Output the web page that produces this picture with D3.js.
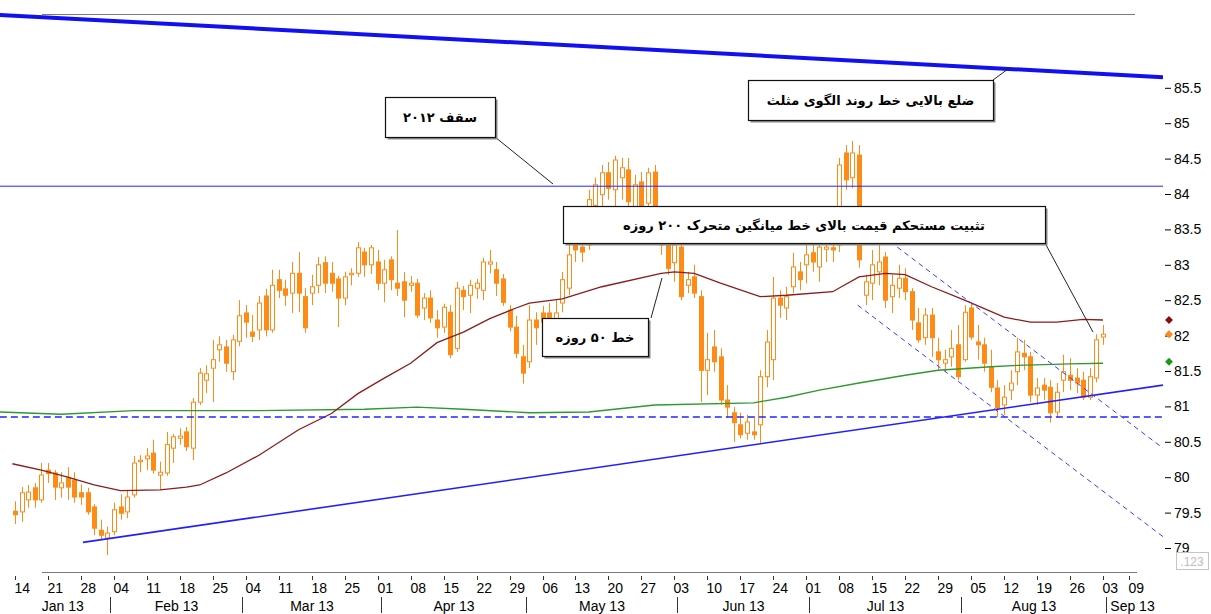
<!DOCTYPE html>
<html>
<head>
<meta charset="utf-8">
<script src="https://cdn.jsdelivr.net/npm/d3@7"></script>
<style>
  body { margin: 0; background: #fff; }
  svg { display: block; }
</style>
</head>
<body>
<svg id="chart" width="1211" height="614"></svg>
<script>
// daily candles, 14 Jan 2013 .. 03 Sep 2013
const opens = [
  79.52, 79.51, 79.68, 79.85, 79.68, 80.10, 80.06, 79.85, 79.99, 79.96,
  79.78, 79.78, 79.58, 79.25, 79.14, 79.23, 79.58, 79.51, 79.75, 80.22,
  80.26, 80.34, 80.03, 80.06, 80.41, 80.55, 80.64, 80.41, 81.06, 81.37,
  81.54, 81.80, 81.84, 81.49, 81.92, 82.32, 82.05, 82.08, 82.56, 82.08,
  82.79, 82.66, 82.60, 82.88, 82.55, 82.60, 82.71, 83.03, 82.88, 82.80,
  82.53, 82.86, 82.88, 83.18, 83.00, 83.04, 82.74, 83.07, 82.74, 82.76,
  82.71, 82.74, 82.39, 82.53, 82.22, 82.12, 82.33, 81.82, 82.64, 82.57,
  82.67, 82.64, 83.01, 82.93, 82.80, 82.36, 82.12, 81.70, 81.63, 82.22,
  82.32, 82.32, 82.19, 82.46, 82.67, 83.28, 83.25, 83.28, 83.84, 83.99,
  84.30, 84.06, 84.23, 84.34, 83.77, 84.17, 83.87, 84.31, 83.56, 83.28,
  83.03, 83.25, 82.71, 82.83, 82.55, 81.51, 81.84, 81.70, 81.09, 80.91,
  80.74, 80.62, 80.64, 80.74, 81.42, 81.66, 82.53, 82.39, 82.69, 82.90,
  83.00, 83.17, 82.97, 83.22, 83.24, 83.28, 84.58, 84.23, 84.55, 82.57,
  82.74, 82.90, 83.11, 82.55, 82.67, 82.81, 82.62, 82.18, 81.97, 82.29,
  81.77, 81.61, 81.70, 81.87, 81.66, 82.39, 81.91, 81.87, 81.56, 81.26,
  81.02, 81.23, 81.49, 81.75, 81.70, 81.16, 81.30, 81.27, 80.92, 81.37,
  81.44, 81.40, 81.37, 81.13, 81.40, 81.98
];
const highs = [
  79.66, 79.86, 79.89, 79.92, 80.20, 80.20, 80.10, 80.07, 80.14, 80.07,
  79.90, 79.85, 79.62, 79.40, 79.30, 79.64, 79.76, 79.82, 80.30, 80.31,
  80.41, 80.53, 80.22, 80.64, 80.61, 80.69, 80.71, 81.12, 81.54, 81.58,
  81.94, 81.99, 81.94, 82.01, 82.50, 82.43, 82.29, 82.56, 82.66, 82.93,
  82.93, 82.79, 83.04, 83.18, 82.67, 82.86, 83.11, 83.12, 83.04, 82.84,
  82.90, 82.95, 83.32, 83.24, 83.28, 83.21, 83.07, 83.12, 83.49, 82.90,
  82.84, 82.80, 82.60, 82.64, 82.36, 82.45, 82.43, 82.76, 82.70, 82.79,
  82.80, 83.10, 83.21, 83.04, 82.87, 82.43, 82.28, 81.87, 82.43, 82.33,
  82.42, 82.46, 82.50, 82.90, 83.39, 83.56, 83.38, 84.06, 84.23, 84.41,
  84.45, 84.54, 84.51, 84.51, 84.27, 84.31, 84.37, 84.41, 83.70, 83.38,
  83.38, 83.35, 82.90, 83.00, 82.64, 82.04, 82.08, 81.82, 81.30, 80.99,
  80.91, 80.88, 80.84, 81.51, 82.08, 82.83, 82.64, 82.69, 83.17, 83.04,
  83.29, 83.35, 83.35, 83.38, 83.49, 84.51, 84.69, 84.75, 84.69, 82.86,
  83.21, 83.28, 83.18, 82.86, 83.00, 82.95, 82.67, 82.39, 82.39, 82.39,
  81.97, 81.80, 82.08, 82.15, 82.43, 82.46, 82.15, 81.97, 81.80, 81.37,
  81.30, 81.51, 81.97, 81.94, 81.77, 81.40, 81.40, 81.37, 81.33, 81.73,
  81.68, 81.54, 81.49, 81.54, 82.02, 82.15
];
const lows = [
  79.34, 79.37, 79.57, 79.57, 79.64, 79.92, 79.68, 79.71, 79.68, 79.64,
  79.61, 79.47, 79.18, 79.11, 78.90, 79.18, 79.40, 79.42, 79.71, 80.07,
  80.10, 80.05, 79.82, 80.02, 80.20, 80.46, 80.37, 80.24, 81.02, 81.19,
  81.06, 81.63, 81.49, 81.37, 81.85, 81.97, 81.91, 81.94, 81.99, 82.04,
  82.53, 82.42, 82.32, 82.33, 82.04, 82.43, 82.60, 82.60, 82.62, 82.12,
  82.43, 82.71, 82.83, 82.83, 82.87, 82.64, 82.47, 82.64, 82.56, 82.26,
  82.62, 82.25, 82.22, 82.18, 81.97, 82.04, 81.68, 81.77, 82.36, 82.32,
  82.52, 82.50, 82.88, 82.56, 82.42, 82.06, 81.68, 81.32, 81.54, 81.87,
  82.08, 82.11, 82.08, 82.33, 82.57, 83.04, 83.04, 83.21, 83.42, 83.70,
  83.92, 83.77, 83.92, 83.70, 83.42, 83.35, 83.49, 83.35, 83.14, 82.86,
  82.76, 82.50, 82.60, 82.53, 81.06, 81.16, 81.49, 81.02, 80.84, 80.50,
  80.55, 80.53, 80.53, 80.48, 81.27, 81.37, 82.25, 82.22, 82.60, 82.64,
  82.74, 82.90, 82.76, 83.04, 83.04, 83.18, 84.06, 84.08, 82.96, 82.43,
  82.50, 82.71, 82.39, 82.32, 82.53, 82.50, 82.08, 81.90, 81.87, 81.70,
  81.51, 81.49, 81.56, 81.37, 81.63, 81.94, 81.66, 81.49, 81.20, 80.85,
  80.88, 81.09, 81.30, 81.51, 81.06, 81.02, 81.09, 80.77, 80.84, 81.20,
  81.23, 81.19, 81.09, 81.09, 81.34, 81.87
];
const closes = [
  79.47, 79.78, 79.79, 79.68, 80.03, 80.05, 79.86, 79.92, 79.86, 79.72,
  79.72, 79.51, 79.28, 79.18, 79.21, 79.54, 79.49, 79.72, 80.20, 80.24,
  80.30, 80.10, 80.07, 80.46, 80.57, 80.58, 80.43, 81.06, 81.47, 81.46,
  81.66, 81.87, 81.61, 81.94, 82.28, 82.19, 81.99, 82.46, 82.08, 82.71,
  82.64, 82.57, 82.88, 82.60, 82.11, 82.69, 83.00, 82.74, 82.74, 82.53,
  82.83, 82.88, 83.24, 83.00, 83.24, 82.74, 82.93, 82.79, 82.67, 82.50,
  82.74, 82.29, 82.53, 82.25, 82.11, 82.40, 81.73, 82.67, 82.55, 82.71,
  82.74, 83.04, 83.04, 82.74, 82.47, 82.12, 81.75, 81.47, 82.22, 82.11,
  82.19, 82.25, 82.32, 82.79, 83.14, 83.21, 83.18, 83.92, 84.13, 84.30,
  84.08, 84.48, 84.37, 83.89, 84.13, 83.63, 84.30, 83.49, 83.28, 82.95,
  83.28, 82.55, 82.79, 82.60, 81.51, 81.66, 81.63, 81.09, 80.99, 80.77,
  80.60, 80.78, 80.60, 81.42, 81.91, 82.53, 82.43, 82.55, 82.97, 82.79,
  83.14, 83.04, 83.25, 83.25, 83.21, 84.41, 84.20, 84.58, 83.07, 82.76,
  83.00, 83.04, 82.50, 82.71, 82.81, 82.62, 82.22, 81.94, 82.29, 81.97,
  81.66, 81.66, 81.82, 81.42, 82.33, 81.98, 81.87, 81.61, 81.27, 80.98,
  81.13, 81.33, 81.77, 81.70, 81.16, 81.26, 81.23, 80.91, 81.20, 81.49,
  81.37, 81.33, 81.13, 81.42, 81.94, 82.02
];

// moving averages, [day index, value]
const ma50 = [
  [-0.4, 80.19], [4, 80.10], [8, 80.00], [12, 79.89], [16, 79.81], [22, 79.82],
  [26, 79.86], [28, 79.89], [32, 80.06], [37, 80.31], [43, 80.67], [48, 80.90],
  [52, 81.18], [56, 81.40], [60, 81.61], [64, 81.90], [68, 82.05], [72, 82.24],
  [76, 82.39], [78, 82.46], [83, 82.52], [89, 82.69], [98, 82.88], [100, 82.90],
  [103, 82.88], [107, 82.74], [113, 82.55], [117, 82.57], [124, 82.62], [128, 82.83],
  [132, 82.88], [135, 82.86], [139, 82.69], [144, 82.50], [150, 82.26], [154, 82.19],
  [158, 82.19], [162, 82.23], [165, 82.22]
];
const ma200 = [
  [-2.3, 80.92], [7, 80.89], [18, 80.94], [37, 80.94], [53, 80.96], [61, 80.99],
  [68, 80.96], [78, 80.91], [87, 80.92], [97, 81.02], [112, 81.05], [117, 81.13],
  [122, 81.23], [128, 81.33], [135, 81.44], [140, 81.51], [148, 81.56], [152, 81.58],
  [160, 81.60], [165, 81.61]
];

// drawn trend lines, [day index, price]
const triangleTop = [[-2.3, 86.53], [174.1, 85.65]];
const top2012 = [[-2.3, 84.11], [174.1, 84.11]];
const supportDash = [[-2.3, 80.85], [174.1, 80.85]];
const risingLine = [[10.3, 79.08], [174.1, 81.30]];
const channelTop = [[133.8, 83.25], [174.1, 80.41]];
const channelBottom = [[127.8, 82.43], [174.1, 79.16]];

const yTicks = [79, 79.5, 80, 80.5, 81, 81.5, 82, 82.5, 83, 83.5, 84, 84.5, 85, 85.5];
const lastValues = [
  { v: 82.22, c: "#8b0d0d" },
  { v: 82.02, c: "#ff8b17" },
  { v: 81.63, c: "#1a9a1a" }
];

const notes = [
  { text: "سقف ۲۰۱۲", box: [385, 97, 110, 40], pointer: [[495, 137], [553, 184]] },
  { text: "ضلع بالایی خط روند الگوی مثلث", box: [748, 80, 245, 40], pointer: [[993, 80], [1008, 69]] },
  { text: "تثبیت مستحکم قیمت بالای خط میانگین متحرک ۲۰۰ روزه", box: [563, 206, 482, 37], pointer: [[1045, 243], [1093, 332]] },
  { text: "خط ۵۰ روزه", box: [542, 318, 106, 38], pointer: [[651, 318], [662, 278]] }
];

// trading days (weekends and Labor Day skipped)
const fmtDay = d3.timeFormat("%Y-%m-%d");
const closedDays = ["2013-09-02"];
const days = d3.timeDay.range(new Date(2013, 0, 14), new Date(2013, 8, 10))
  .filter(d => d.getDay() > 0 && d.getDay() < 6 && !closedDays.includes(fmtDay(d)));

const svg = d3.select("#chart");
const plotRight = 1163;

const x = d3.scaleLinear().domain([0, opens.length - 1]).range([15, 1103]);
const y = d3.scaleLinear().domain([79, 84]).range([548, 194]);

svg.append("defs").append("clipPath").attr("id", "plot")
  .append("rect").attr("x", 0).attr("y", 0).attr("width", plotRight).attr("height", 570);

// frame line on top
svg.append("line")
  .attr("x1", 42).attr("x2", 1135).attr("y1", 14.5).attr("y2", 14.5)
  .attr("stroke", "#7a7a7a").attr("stroke-width", 1);

const plot = svg.append("g").attr("clip-path", "url(#plot)");

// candles
const orange = "#ff8b17";
const candles = plot.append("g");
d3.range(opens.length).forEach(i => {
  const cx = Math.round(x(i)) + 0.5;
  const up = closes[i] >= opens[i];
  candles.append("line")
    .attr("x1", cx).attr("x2", cx)
    .attr("y1", y(highs[i])).attr("y2", y(lows[i]))
    .attr("stroke", orange).attr("stroke-width", 1);
  const top = y(Math.max(opens[i], closes[i]));
  const bot = y(Math.min(opens[i], closes[i]));
  candles.append("rect")
    .attr("x", cx - 2).attr("width", 4)
    .attr("y", top).attr("height", Math.max(1, bot - top))
    .attr("fill", up ? "#fff" : orange)
    .attr("stroke", orange).attr("stroke-width", 1);
});

const line = d3.line().x(d => x(d[0])).y(d => y(d[1]));

plot.append("path").datum(ma200).attr("d", line)
  .attr("fill", "none").attr("stroke", "#2e9a2e").attr("stroke-width", 1.4);
plot.append("path").datum(ma50).attr("d", line)
  .attr("fill", "none").attr("stroke", "#8c1c1c").attr("stroke-width", 1.3);

plot.append("path").datum(top2012).attr("d", line)
  .attr("fill", "none").attr("stroke", "#2525ff").attr("stroke-width", 1);
plot.append("path").datum(supportDash).attr("d", line)
  .attr("fill", "none").attr("stroke", "#2525ff").attr("stroke-width", 1.3)
  .attr("stroke-dasharray", "7,4");
plot.append("path").datum(risingLine).attr("d", line)
  .attr("fill", "none").attr("stroke", "#2020ff").attr("stroke-width", 1.6);
[channelTop, channelBottom].forEach(c => {
  plot.append("path").datum(c).attr("d", line)
    .attr("fill", "none").attr("stroke", "#3a3aff").attr("stroke-width", 1)
    .attr("stroke-dasharray", "5,4");
});
plot.append("path").datum(triangleTop).attr("d", line)
  .attr("fill", "none").attr("stroke", "#1010f0").attr("stroke-width", 4);

// notes
const notesG = svg.append("g");
notes.forEach(n => {
  const [bx, by, bw, bh] = n.box;
  notesG.append("line")
    .attr("x1", n.pointer[0][0]).attr("y1", n.pointer[0][1])
    .attr("x2", n.pointer[1][0]).attr("y2", n.pointer[1][1])
    .attr("stroke", "#222").attr("stroke-width", 1);
  notesG.append("rect")
    .attr("x", bx + 2.5).attr("y", by + 2.5).attr("width", bw).attr("height", bh)
    .attr("fill", "#8a8a8a");
  notesG.append("rect")
    .attr("x", bx + 0.5).attr("y", by + 0.5).attr("width", bw).attr("height", bh)
    .attr("fill", "#fff").attr("stroke", "#111").attr("stroke-width", 1.2);
  notesG.append("text")
    .attr("x", bx + bw / 2).attr("y", by + bh / 2 + 5)
    .attr("text-anchor", "middle")
    .attr("direction", "rtl")
    .attr("font-family", "DejaVu Sans")
    .attr("font-weight", "bold")
    .attr("font-size", 13)
    .attr("fill", "#000")
    .text(n.text);
});

// right axis
const yAxis = svg.append("g").attr("transform", `translate(${plotRight + 2},0)`)
  .call(d3.axisRight(y).tickValues(yTicks).tickSize(6).tickPadding(3)
    .tickFormat(d3.format(".1~f")));
yAxis.select(".domain").remove();
yAxis.selectAll("line").attr("stroke", "#000");
yAxis.selectAll("text")
  .attr("font-family", "Liberation Sans, Arial, sans-serif")
  .attr("font-size", 14).attr("fill", "#000");

lastValues.forEach(m => {
  svg.append("path")
    .attr("d", d3.symbol().type(d3.symbolDiamond2).size(40)())
    .attr("transform", `translate(${plotRight + 6},${y(m.v)})`)
    .attr("fill", m.c);
});

svg.append("rect")
  .attr("x", 1176.5).attr("y", 552.5).attr("width", 32).attr("height", 17)
  .attr("fill", "#fff").attr("stroke", "#c4c4c4");
svg.append("text")
  .attr("x", 1192).attr("y", 565.5).attr("text-anchor", "middle")
  .attr("font-family", "Liberation Sans, Arial, sans-serif")
  .attr("font-size", 12).attr("fill", "#bdbdbd").text(".123");

// bottom axis
const xAxis = svg.append("g");
xAxis.append("line")
  .attr("x1", 42).attr("x2", 1137).attr("y1", 572.5).attr("y2", 572.5)
  .attr("stroke", "#777");

const weekStarts = d3.range(days.length).filter(i =>
  i === 0 || +d3.timeMonday.floor(days[i]) > +days[i - 1]);
const xAll = d3.scaleLinear().domain([0, opens.length - 1]).range([15, 1103]);

weekStarts.forEach(i => {
  const tx = Math.round(xAll(i)) + 0.5;
  xAxis.append("line")
    .attr("x1", tx).attr("x2", tx).attr("y1", 576).attr("y2", 580)
    .attr("stroke", "#333");
  xAxis.append("text")
    .attr("x", tx - 1).attr("y", 593)
    .attr("font-family", "Liberation Sans, Arial, sans-serif")
    .attr("font-size", 14).attr("fill", "#000")
    .text(d3.timeFormat("%d")(days[i]));
});

const monthStarts = d3.range(days.length).filter(i =>
  i === 0 || days[i].getMonth() !== days[i - 1].getMonth());
monthStarts.forEach((i, k) => {
  const sx = Math.round(xAll(i)) + 3.5;
  if (i > 0) {
    xAxis.append("line")
      .attr("x1", sx).attr("x2", sx).attr("y1", 597).attr("y2", 613)
      .attr("stroke", "#333");
  }
  const next = monthStarts[k + 1];
  const left = i > 0 ? sx : xAll(0);
  const right = next !== undefined ? Math.round(xAll(next)) + 3.5 : sx + 52;
  xAxis.append("text")
    .attr("x", (left + right) / 2).attr("y", 611)
    .attr("text-anchor", "middle")
    .attr("font-family", "Liberation Sans, Arial, sans-serif")
    .attr("font-size", 14).attr("fill", "#000")
    .text(d3.timeFormat("%b %y")(days[i]));
});
</script>
</body>
</html>
